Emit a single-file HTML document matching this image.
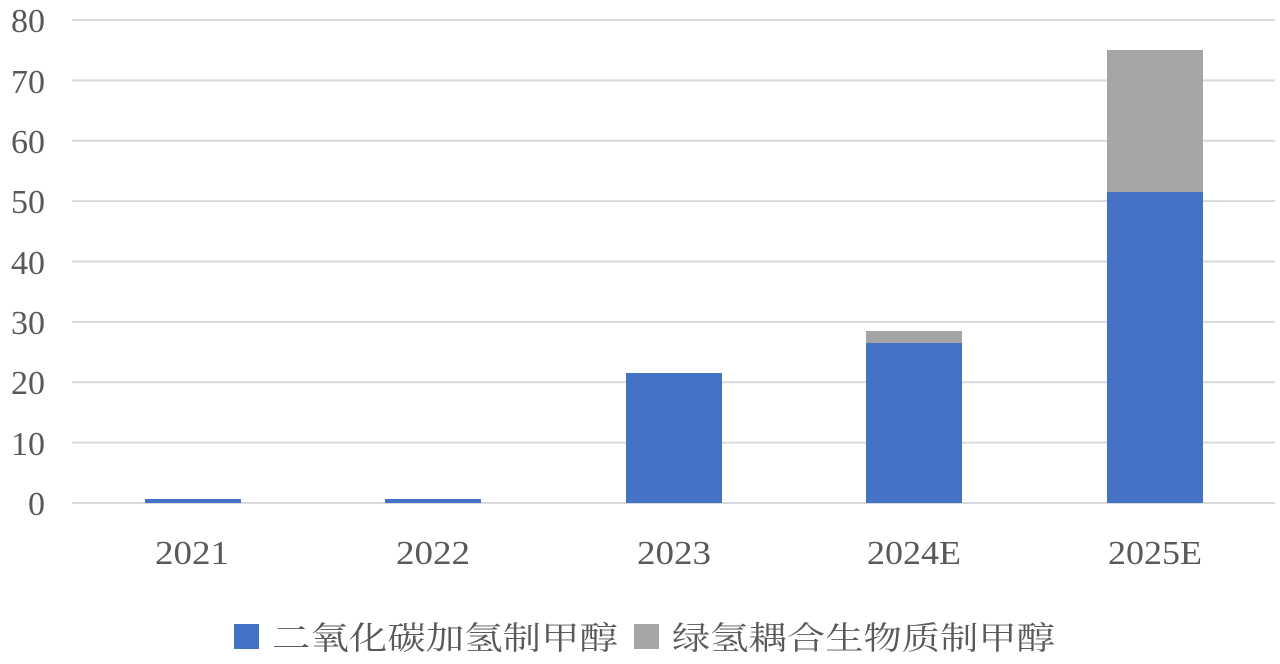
<!DOCTYPE html>
<html><head><meta charset="utf-8"><style>
html,body{margin:0;padding:0;background:#fff;}
svg{display:block;}
text{font-family:"Liberation Serif","Noto Serif CJK SC",serif;fill:#595959;}
</style></head><body>
<svg width="1280" height="664" xmlns="http://www.w3.org/2000/svg">
<g stroke="#d9d9d9" stroke-width="2">
<line x1="72" x2="1275" y1="20" y2="20"/>
<line x1="72" x2="1275" y1="80.4" y2="80.4"/>
<line x1="72" x2="1275" y1="140.8" y2="140.8"/>
<line x1="72" x2="1275" y1="201.1" y2="201.1"/>
<line x1="72" x2="1275" y1="261.5" y2="261.5"/>
<line x1="72" x2="1275" y1="321.9" y2="321.9"/>
<line x1="72" x2="1275" y1="382.3" y2="382.3"/>
<line x1="72" x2="1275" y1="442.6" y2="442.6"/>
<line x1="72" x2="1275" y1="503" y2="503"/>
</g>
<g font-size="34" text-anchor="end">
<text x="45" y="515">0</text>
<text x="45" y="455">10</text>
<text x="45" y="394">20</text>
<text x="45" y="334">30</text>
<text x="45" y="274">40</text>
<text x="45" y="213">50</text>
<text x="45" y="153">60</text>
<text x="45" y="93">70</text>
<text x="45" y="32">80</text>
</g>
<g fill="#4472c4">
<rect x="145" y="499" width="96" height="4"/>
<rect x="385" y="499" width="96" height="4"/>
<rect x="626" y="373" width="96" height="130"/>
<rect x="866" y="343" width="96" height="160"/>
<rect x="1107" y="192" width="96" height="311"/>
</g>
<g fill="#a5a5a5">
<rect x="866" y="331" width="96" height="12"/>
<rect x="1107" y="50" width="96" height="142"/>
</g>
<g font-size="34" text-anchor="middle">
<text x="192" y="564" textLength="74" lengthAdjust="spacingAndGlyphs">2021</text>
<text x="433" y="564" textLength="74" lengthAdjust="spacingAndGlyphs">2022</text>
<text x="674" y="564" textLength="74" lengthAdjust="spacingAndGlyphs">2023</text>
<text x="914" y="564" textLength="94" lengthAdjust="spacingAndGlyphs">2024E</text>
<text x="1155" y="564" textLength="94" lengthAdjust="spacingAndGlyphs">2025E</text>
</g>
<rect x="234" y="624" width="25" height="25" fill="#4472c4"/>
<text x="272" y="649" font-size="32" textLength="346" lengthAdjust="spacingAndGlyphs">二氧化碳加氢制甲醇</text>
<rect x="634" y="624" width="25" height="25" fill="#a5a5a5"/>
<text x="672" y="649" font-size="32" textLength="383" lengthAdjust="spacingAndGlyphs">绿氢耦合生物质制甲醇</text>
</svg>
</body></html>
